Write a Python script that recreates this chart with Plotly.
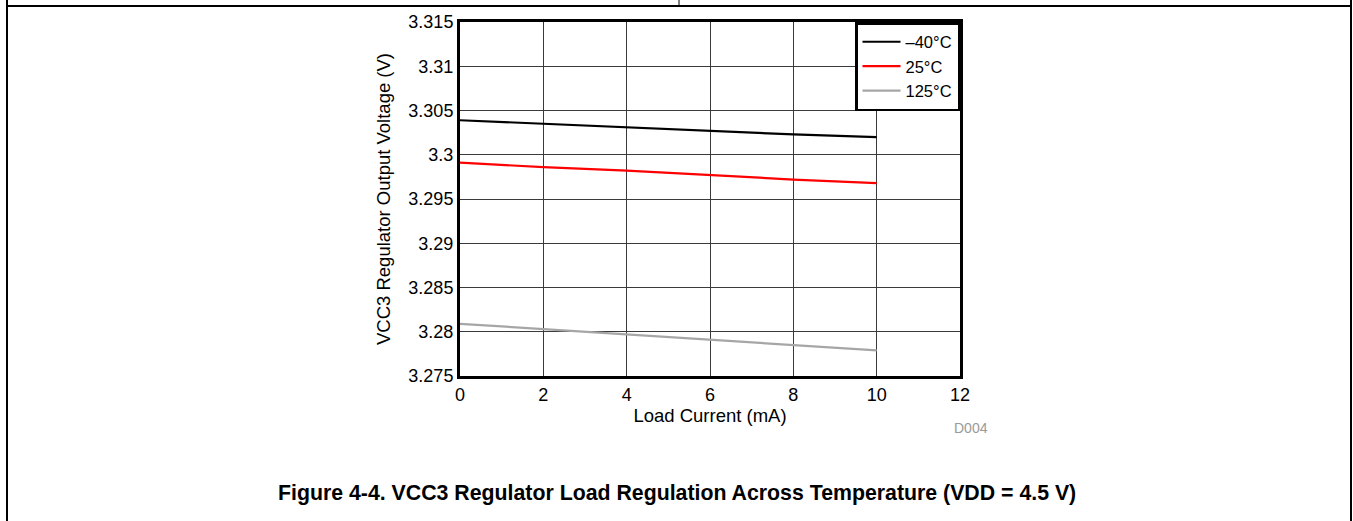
import plotly.graph_objects as go

load_current = [0, 2, 4, 6, 8, 10]
v_m40 = [3.3039, 3.3035, 3.3031, 3.3027, 3.3023, 3.3020]
v_25 = [3.2991, 3.2986, 3.2982, 3.2977, 3.2972, 3.2968]
v_125 = [3.2809, 3.2803, 3.2797, 3.2791, 3.2785, 3.2779]
series_names = ["\u201340\u00b0C", "25\u00b0C", "125\u00b0C"]
series_colors = ["#000000", "#FF0000", "#A6A6A6"]
y_ticks = [3.275, 3.28, 3.285, 3.29, 3.295, 3.3, 3.305, 3.31, 3.315]
y_ticklabels = ["3.275", "3.28", "3.285", "3.29", "3.295", "3.3", "3.305", "3.31", "3.315"]
x_ticks = [0, 2, 4, 6, 8, 10, 12]

FONT = "Liberation Sans, Arial, sans-serif"
W, H = 1353, 521
L, R, T, B = 460, 393, 22, 145
PW, PH = W - L - R, H - T - B


def px(X):
    return (X - L) / PW


def py(Y):
    return (H - B - Y) / PH


fig = go.Figure()
for name, ys, c in zip(series_names, [v_m40, v_25, v_125], series_colors):
    fig.add_trace(go.Scatter(x=load_current, y=ys, mode="lines", name=name,
                             line=dict(color=c, width=2.2)))

fig.update_layout(
    width=W, height=H,
    margin=dict(l=L, r=R, t=T, b=B),
    paper_bgcolor="white", plot_bgcolor="white",
    font=dict(family=FONT, color="black", size=18),
    showlegend=True,
    legend=dict(x=1, y=1, xanchor="right", yanchor="top",
                bgcolor="white", bordercolor="black", borderwidth=2.5,
                font=dict(size=16.5, family=FONT), tracegroupgap=0,
                itemwidth=38),
)
fig.update_xaxes(range=[0, 12], tickvals=x_ticks, showgrid=True, gridcolor="#3a3a3a", gridwidth=1,
                 showline=True, linecolor="black", linewidth=3, mirror=True,
                 ticks="", zeroline=False,
                 title=dict(text="Load Current (mA)", standoff=5, font=dict(size=18.5)),
                 tickfont=dict(size=18))
fig.update_yaxes(range=[3.275, 3.315], tickvals=y_ticks, ticktext=y_ticklabels,
                 showgrid=True, gridcolor="#3a3a3a", gridwidth=1,
                 showline=True, linecolor="black", linewidth=3, mirror=True,
                 ticks="", zeroline=False,
                 title=dict(text="VCC3 Regulator Output Voltage (V)", standoff=13, font=dict(size=18.5)),
                 tickfont=dict(size=18))

shapes = [
    dict(type="line", xref="paper", yref="paper", x0=px(7), x1=px(1351), y0=py(6), y1=py(6),
         line=dict(color="black", width=2)),
    dict(type="line", xref="paper", yref="paper", x0=px(7), x1=px(7), y0=py(0), y1=py(521),
         line=dict(color="black", width=2)),
    dict(type="line", xref="paper", yref="paper", x0=px(1351), x1=px(1351), y0=py(0), y1=py(521),
         line=dict(color="black", width=2)),
    dict(type="line", xref="paper", yref="paper", x0=px(679), x1=px(679), y0=py(0), y1=py(6),
         line=dict(color="black", width=1)),
]
fig.update_layout(shapes=shapes)

fig.add_annotation(xref="paper", yref="paper", x=px(971), y=py(428), text="D004",
                   showarrow=False, font=dict(size=14, color="#999999", family=FONT),
                   xanchor="center", yanchor="middle")
fig.add_annotation(xref="paper", yref="paper", x=px(677), y=py(493),
                   text="<b>Figure 4-4. VCC3 Regulator Load Regulation Across Temperature (VDD = 4.5 V)</b>",
                   showarrow=False, font=dict(size=21.3, color="black", family=FONT),
                   xanchor="center", yanchor="middle")

fig.write_html("out.html", config={"displayModeBar": False},
               post_script="document.body.style.margin='0';")
